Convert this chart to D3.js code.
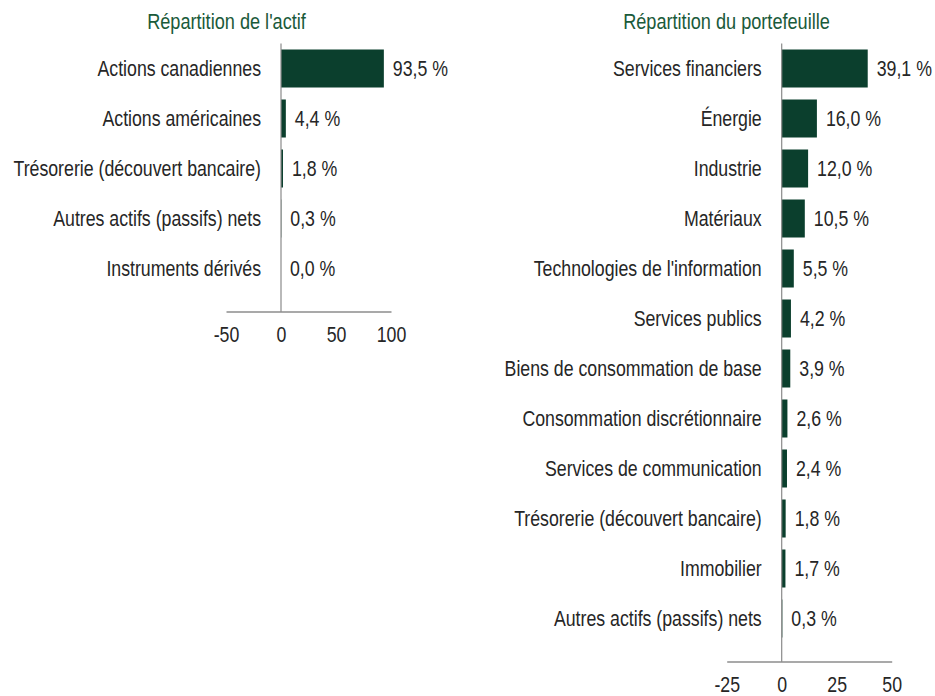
<!DOCTYPE html>
<html>
<head>
<meta charset="utf-8">
<script src="https://cdn.jsdelivr.net/npm/d3@7"></script>
<style>
  body { margin: 0; background: #fff; }
  svg text { font-family: "Liberation Sans", Arial, sans-serif; }
</style>
</head>
<body>
<div id="chart"></div>
<script>
// Répartition de l'actif
var assetCategories = ["Actions canadiennes", "Actions américaines", "Trésorerie (découvert bancaire)",
    "Autres actifs (passifs) nets", "Instruments dérivés"];
var assetValues = [93.5, 4.4, 1.8, 0.3, 0.0];
var assetTicks = [-50, 0, 50, 100];

// Répartition du portefeuille
var sectorCategories = ["Services financiers", "Énergie", "Industrie", "Matériaux",
    "Technologies de l'information", "Services publics", "Biens de consommation de base",
    "Consommation discrétionnaire", "Services de communication", "Trésorerie (découvert bancaire)",
    "Immobilier", "Autres actifs (passifs) nets"];
var sectorValues = [39.1, 16.0, 12.0, 10.5, 5.5, 4.2, 3.9, 2.6, 2.4, 1.8, 1.7, 0.3];
var sectorTicks = [-25, 0, 25, 50];

var barColor = "#0b3f2d",
    titleColor = "#1a5a3a",
    textColor = "#262626";

// no narrow font installed, so squeeze Liberation Sans horizontally
var narrow = 0.825,
    fontSize = "21.5px";

var svg = d3.select("#chart").append("svg")
    .attr("width", 935)
    .attr("height", 696);

var pct = function(v) { return d3.format(".1f")(v).replace(".", ",") + " %"; };

function place(x, y) {
    return "translate(" + x + "," + y + ") scale(" + narrow + ",1)";
}

function drawPanel(title, cats, vals, ticks, opts) {
    var g = svg.append("g");

    var x = d3.scaleLinear()
        .domain([ticks[0], ticks[ticks.length - 1]])
        .range([opts.x0, opts.x1]);

    var y = d3.scaleBand()
        .domain(cats)
        .range([opts.top, opts.top + 50 * cats.length])
        .paddingInner(0.24)
        .paddingOuter(0.12);

    var axisY = opts.top + 50 * cats.length + 18;

    g.append("text")
        .attr("transform", place(opts.titleX, 28.5))
        .attr("text-anchor", "middle")
        .attr("fill", titleColor)
        .style("font-size", "22px")
        .text(title);

    g.selectAll("rect.bar")
        .data(vals)
        .enter().append("rect")
        .attr("class", "bar")
        .attr("x", function(d) { return x(Math.min(0, d)); })
        .attr("y", function(d, i) { return y(cats[i]); })
        .attr("width", function(d) { return Math.abs(x(d) - x(0)); })
        .attr("height", y.bandwidth())
        .attr("fill", barColor);

    // category labels
    g.selectAll("text.cat")
        .data(cats)
        .enter().append("text")
        .attr("class", "cat")
        .attr("transform", function(d) { return place(x(0) - 20, y(d) + y.bandwidth() / 2); })
        .attr("dy", "0.36em")
        .attr("text-anchor", "end")
        .attr("fill", textColor)
        .style("font-size", fontSize)
        .text(function(d) { return d; });

    // value labels
    g.selectAll("text.val")
        .data(vals)
        .enter().append("text")
        .attr("class", "val")
        .attr("transform", function(d, i) {
            return place(x(Math.max(0, d)) + 9, y(cats[i]) + y.bandwidth() / 2);
        })
        .attr("dy", "0.36em")
        .attr("fill", textColor)
        .style("font-size", fontSize)
        .text(pct);

    // zero line
    g.append("line")
        .attr("x1", x(0)).attr("x2", x(0))
        .attr("y1", opts.top).attr("y2", axisY)
        .attr("stroke", "#8a8a8a")
        .attr("stroke-width", 1.2);

    var xAxis = d3.axisBottom(x)
        .tickValues(ticks)
        .tickSize(0)
        .tickSizeOuter(0)
        .tickPadding(15)
        .tickFormat(function(d) { return String(d); });

    var ax = g.append("g")
        .attr("transform", "translate(0," + axisY + ")")
        .call(xAxis);
    ax.select(".domain").attr("stroke", "#555").attr("stroke-width", 1.2);
    ax.selectAll("text")
        .attr("fill", textColor)
        .attr("transform", "scale(" + narrow + ",1)")
        .style("font-size", fontSize)
        .style("font-family", null);
}

drawPanel("Répartition de l'actif", assetCategories, assetValues, assetTicks,
    {x0: 226, x1: 391, top: 43.5, titleX: 226.5});
drawPanel("Répartition du portefeuille", sectorCategories, sectorValues, sectorTicks,
    {x0: 726.7, x1: 891.7, top: 43.5, titleX: 726.5});
</script>
</body>
</html>
